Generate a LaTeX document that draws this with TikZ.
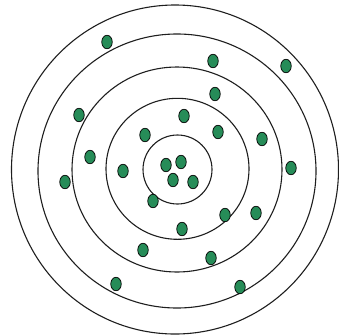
\documentclass[tikz,border=0pt]{standalone}
\definecolor{ringgray} {RGB}{30,30,30}
\definecolor{dotgreen} {RGB}{38,140,88}
\usepackage{tikz}
\usetikzlibrary{shapes.geometric}
\tikzset{
  ring/.style={draw=ringgray,line width=1.1pt},
  dotnode/.style={ellipse,draw=black,fill=dotgreen,line width=0.7pt,
                  minimum width=10.5pt,minimum height=13.5pt,inner sep=0pt},
}
\begin{document}
\begin{tikzpicture}[x=1pt,y=-1pt]
    \useasboundingbox (0,0) rectangle (339,335);
    % rings, inner to outer
    \foreach \cx/\cy/\rx/\ry in {
        177.5/169.5/34.5/34.5,
        177.5/168.8/71.5/70.5,
        177/169.5/105/102.5,
        177/171/139/137,
        175/169.5/163.5/164.5}{
      \draw[ring] (\cx,\cy) ellipse [x radius=\rx, y radius=\ry];
    }
    % dots
    \foreach \i/\x/\y in {
        1/107/42, 2/213/61, 3/286/66, 4/215/94, 5/79/115,
        6/184/116, 7/145/135, 8/218/132, 9/262/139, 10/90/157,
        11/123/171, 12/166/165, 13/181/162, 14/173/180, 15/193/182,
        16/291/168, 17/65/182, 18/153/201, 19/225/215, 20/256/213,
        21/182/229, 22/143/250, 23/211/258, 24/116/284, 25/240/287}{
      \node[dotnode] (dot\i) at (\x,\y) {};
    }
  \end{tikzpicture}
\end{document}
